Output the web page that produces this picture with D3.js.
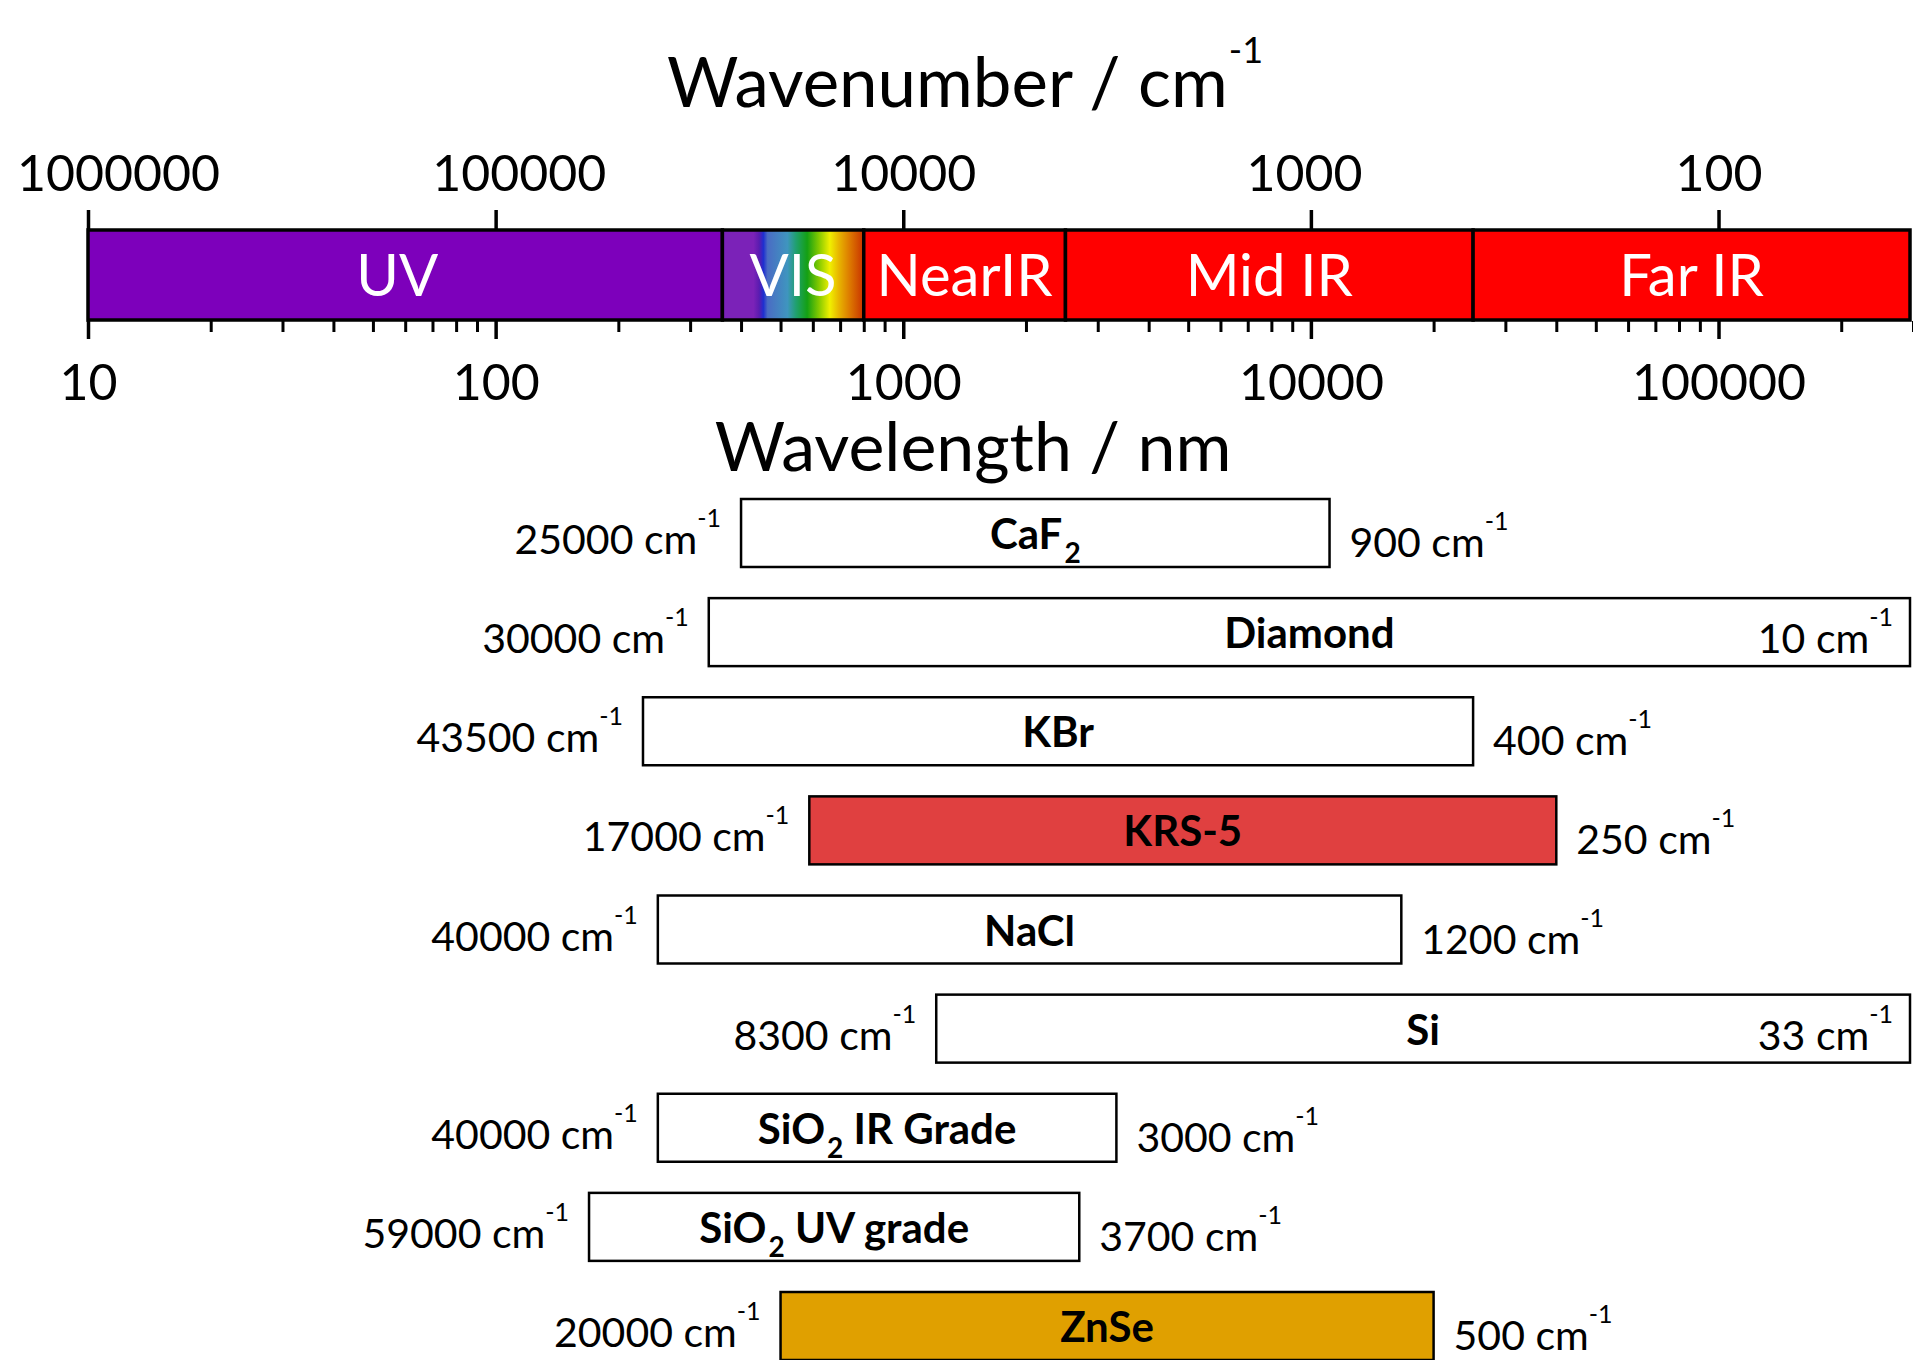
<!DOCTYPE html>
<html>
<head>
<meta charset="utf-8">
<script src="https://cdn.jsdelivr.net/npm/d3@7"></script>
<style>
  body { margin: 0; background: #fff; }
  svg { display: block; font-family: Lato, "Open Sans", sans-serif; }
</style>
</head>
<body>
<svg id="chart" width="1913" height="1360"></svg>
<script>
// wavelength axis ticks (nm)
const majorTicks = [10, 100, 1000, 10000, 100000];
const minorTicks = [20, 30, 40, 50, 60, 70, 80, 90,
                    200, 300, 400, 500, 600, 700, 800, 900,
                    2000, 3000, 4000, 5000, 6000, 7000, 8000, 9000,
                    20000, 30000, 40000, 50000, 60000, 70000, 80000, 90000,
                    200000, 300000];

// spectral regions (nm)
const regionNames = ["UV", "VIS", "NearIR", "Mid IR", "Far IR"];
const regionStart = [10, 360, 800, 2500, 25000];
const regionEnd   = [360, 800, 2500, 25000, 300000];

// visible rainbow inside the VIS box
const visOffsets = [0, 0.22, 0.26, 0.29, 0.32, 0.46, 0.52, 0.6, 0.68, 0.76, 0.82, 0.9, 1];
const visColors  = ["#7b22b8", "#7b22b8", "#5a1cb0", "#1e2ed0", "#4a6cc4", "#3f95bf", "#20a070",
                    "#14a014", "#80c800", "#f0f000", "#e8b800", "#dd7a00", "#c83000"];

// window materials, transmission range in cm^-1 (as drawn) and printed labels
const materials  = ["CaF2", "Diamond", "KBr", "KRS-5", "NaCl", "Si", "SiO2 IR Grade", "SiO2 UV grade", "ZnSe"];
const highWn     = [25000, 30000, 43500, 17000, 40000, 8300, 40000, 59000, 20000];
const lowWn      = [900, 10, 400, 250, 600, 33, 3000, 3700, 500];
const highLabels = ["25000", "30000", "43500", "17000", "40000", "8300", "40000", "59000", "20000"];
const lowLabels  = ["900", "10", "400", "250", "1200", "33", "3000", "3700", "500"];

const fillFor = { "KRS-5": "#e04040", "ZnSe": "#e0a000" };

const barTop = 230, barBottom = 320;

const svg = d3.select("#chart");

const x = d3.scaleLog().domain([10, 300000]).range([88, 1913]).clamp(true);
const xMax = 1910;

const y = d3.scaleBand().domain(materials).range([499, 1360]).paddingInner(0.314).paddingOuter(0);

// gradient for VIS
const grad = svg.append("defs").append("linearGradient")
    .attr("id", "vis").attr("x1", "0%").attr("x2", "100%");
visOffsets.forEach((o, i) => {
    grad.append("stop").attr("offset", o).attr("stop-color", visColors[i]);
});

// spectrum bar
const regions = regionNames.map((n, i) => ({ name: n, a: regionStart[i], b: regionEnd[i] }));
svg.append("g").selectAll("rect")
    .data(regions)
    .join("rect")
    .attr("x", d => x(d.a))
    .attr("y", barTop)
    .attr("width", d => Math.min(x(d.b), xMax) - x(d.a))
    .attr("height", barBottom - barTop)
    .attr("fill", d => d.name === "UV" ? "#7d00bb" : d.name === "VIS" ? "url(#vis)" : "#ff0000")
    .attr("stroke", "#000")
    .attr("stroke-width", 3.5);

svg.append("g").selectAll("text")
    .data(regions)
    .join("text")
    .attr("x", d => (x(d.a) + Math.min(x(d.b), xMax)) / 2 - (d.name === "UV" ? 8 : 0))
    .attr("y", 296)
    .attr("text-anchor", "middle")
    .attr("fill", "#fff")
    .attr("font-size", 58)
    .text(d => d.name);

// bottom axis: wavelength
const gMinor = svg.append("g")
    .attr("transform", `translate(0,${barBottom + 1})`)
    .call(d3.axisBottom(x).tickValues(minorTicks).tickSize(11).tickFormat(""));
gMinor.select(".domain").remove();
gMinor.selectAll("text").remove();
gMinor.selectAll("line").attr("stroke", "#000").attr("stroke-width", 3);

const gBottom = svg.append("g")
    .attr("transform", `translate(0,${barBottom + 1})`)
    .call(d3.axisBottom(x).tickValues(majorTicks).tickSize(18).tickFormat(d3.format("d")));
gBottom.select(".domain").remove();
gBottom.attr("font-family", null).attr("font-size", 50);
gBottom.selectAll("line").attr("stroke", "#000").attr("stroke-width", 3.5);
gBottom.selectAll("text").attr("y", 79).attr("dy", null).attr("fill", "#000");

// top axis: wavenumber
const topNudge = { 10: 30, 100: 23, 10000: -7 };
const gTop = svg.append("g")
    .attr("transform", `translate(0,${barTop - 1})`)
    .call(d3.axisTop(x).tickValues(majorTicks).tickSize(19).tickFormat(d => d3.format("d")(1e7 / d)));
gTop.select(".domain").remove();
gTop.attr("font-family", null).attr("font-size", 50);
gTop.selectAll("line").attr("stroke", "#000").attr("stroke-width", 3.5);
gTop.selectAll("text").attr("y", -38).attr("dy", null).attr("fill", "#000")
    .attr("dx", d => topNudge[d] || 0);

// titles
const t1 = svg.append("text").attr("x", 965).attr("y", 107).attr("text-anchor", "middle").attr("font-size", 69);
t1.append("tspan").text("Wavenumber / cm");
t1.append("tspan").attr("dx", 1).attr("dy", -44).attr("font-size", 36).text("-1");

svg.append("text").attr("x", 973).attr("y", 471).attr("text-anchor", "middle")
    .attr("font-size", 68).text("Wavelength / nm");

// material windows
const rows = materials.map((m, i) => {
    const x0 = x(1e7 / highWn[i]);
    const rawEnd = x(1e7 / lowWn[i]);
    return {
        name: m, x0: x0, x1: Math.min(rawEnd, xMax), clipped: rawEnd >= xMax,
        hi: highLabels[i], lo: lowLabels[i], top: y(m)
    };
});

const g = svg.append("g");
g.selectAll("rect")
    .data(rows)
    .join("rect")
    .attr("x", d => d.x0)
    .attr("y", d => d.top)
    .attr("width", d => d.x1 - d.x0)
    .attr("height", y.bandwidth())
    .attr("fill", d => fillFor[d.name] || "#fff")
    .attr("stroke", "#000")
    .attr("stroke-width", 2.5);

// material names, with subscript 2 where needed
rows.forEach(d => {
    const t = g.append("text")
        .attr("x", (d.x0 + d.x1) / 2)
        .attr("y", d.top + 50)
        .attr("text-anchor", "middle")
        .attr("font-weight", "bold")
        .attr("font-size", 42);
    const m = d.name.match(/^(.*?[A-Za-z])2(.*)$/);
    if (m) {
        t.append("tspan").text(m[1]);
        t.append("tspan").attr("dx", 2).attr("dy", 14).attr("font-size", 28).text("2");
        if (m[2]) t.append("tspan").attr("dy", -14).text(m[2]);
    } else {
        t.text(d.name);
    }
});

function rangeLabel(sel, num) {
    sel.append("tspan").text(num + " cm");
    sel.append("tspan").attr("dx", 0).attr("dy", -27).attr("font-size", 25).text("-1");
}

rows.forEach(d => {
    const left = g.append("text")
        .attr("x", d.x0 - 20)
        .attr("y", d.top + 55)
        .attr("text-anchor", "end")
        .attr("font-size", 41);
    rangeLabel(left, d.hi);

    const right = g.append("text")
        .attr("x", d.clipped ? d.x1 - 17 : d.x1 + 20)
        .attr("y", d.top + (d.clipped ? 55 : 58))
        .attr("text-anchor", d.clipped ? "end" : "start")
        .attr("font-size", 41);
    rangeLabel(right, d.lo);
});
</script>
</body>
</html>
